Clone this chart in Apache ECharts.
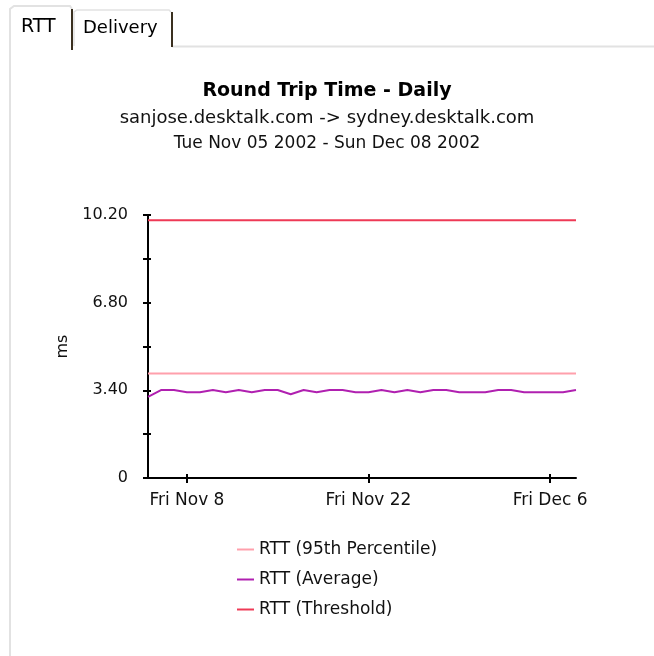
<!DOCTYPE html>
<html>
<head>
<meta charset="utf-8">
<script src="https://cdn.jsdelivr.net/npm/echarts@6/dist/echarts.min.js"></script>
<style>
html,body{margin:0;padding:0;background:#fff;}
#c{width:654px;height:656px;}
</style>
</head>
<body>
<div id="c"></div>
<script>
var titleText = 'Round Trip Time - Daily';
var subtitle1 = 'sanjose.desktalk.com -> sydney.desktalk.com';
var subtitle2 = 'Tue Nov 05 2002 - Sun Dec 08 2002';
var tabLabels = ['RTT', 'Delivery'];
var yAxisName = 'ms';

var categories = [
  'Tue Nov 5','Wed Nov 6','Thu Nov 7','Fri Nov 8','Sat Nov 9','Sun Nov 10','Mon Nov 11',
  'Tue Nov 12','Wed Nov 13','Thu Nov 14','Fri Nov 15','Sat Nov 16','Sun Nov 17','Mon Nov 18',
  'Tue Nov 19','Wed Nov 20','Thu Nov 21','Fri Nov 22','Sat Nov 23','Sun Nov 24','Mon Nov 25',
  'Tue Nov 26','Wed Nov 27','Thu Nov 28','Fri Nov 29','Sat Nov 30','Sun Dec 1','Mon Dec 2',
  'Tue Dec 3','Wed Dec 4','Thu Dec 5','Fri Dec 6','Sat Dec 7','Sun Dec 8'
];
var xTickLabels = ['Fri Nov 8', 'Fri Nov 22', 'Fri Dec 6'];

var seriesNames = ['RTT (95th Percentile)', 'RTT (Average)', 'RTT (Threshold)'];
var rtt95 = [4.05,4.05,4.05,4.05,4.05,4.05,4.05,4.05,4.05,4.05,4.05,4.05,4.05,4.05,4.05,4.05,4.05,
             4.05,4.05,4.05,4.05,4.05,4.05,4.05,4.05,4.05,4.05,4.05,4.05,4.05,4.05,4.05,4.05,4.05];
var rttAvg = [3.15,3.41,3.41,3.33,3.33,3.41,3.33,3.41,3.33,3.41,3.41,3.25,3.41,3.33,3.41,3.41,3.33,
              3.33,3.41,3.33,3.41,3.33,3.41,3.41,3.33,3.33,3.33,3.41,3.41,3.33,3.33,3.33,3.33,3.41];
var rttThreshold = [10,10,10,10,10,10,10,10,10,10,10,10,10,10,10,10,10,
                    10,10,10,10,10,10,10,10,10,10,10,10,10,10,10,10,10];
var yTickLabels = ['0', '3.40', '6.80', '10.20'];

var colors = ['#ffa0ac', '#b020b0', '#ee3a56'];
var FONT = 'DejaVu Sans';

function isLabelIdx(i) { return xTickLabels.indexOf(categories[i]) >= 0; }
function yFmt(v) {
  var k = Math.round(v / 1.7);
  if (k % 2 !== 0) return '';
  return yTickLabels[k / 2];
}

var chart = echarts.init(document.getElementById('c'), null, {renderer: 'canvas'});
var baseX = {
  type: 'category', data: categories, boundaryGap: false,
  axisLine: {show: true, onZero: false, lineStyle: {color: '#000', width: 2}},
  axisTick: {show: true, alignWithLabel: true, interval: function (i) { return isLabelIdx(i); }, length: 5, lineStyle: {color: '#000', width: 2}},
  axisLabel: {show: true, interval: function (i) { return isLabelIdx(i); }, color: '#111', fontFamily: FONT, fontSize: 17, margin: 14},
  splitLine: {show: false}
};
var innerX = {
  type: 'category', data: categories, boundaryGap: false, position: 'bottom',
  axisLine: {show: false},
  axisTick: {show: true, inside: true, interval: function (i) { return isLabelIdx(i); }, length: 4, lineStyle: {color: '#000', width: 2}},
  axisLabel: {show: false}, splitLine: {show: false}
};
var baseY = {
  type: 'value', min: 0, max: 10.2, interval: 1.7,
  name: yAxisName, nameLocation: 'middle', nameGap: 77, nameRotate: 90,
  nameTextStyle: {color: '#111', fontFamily: FONT, fontSize: 16},
  axisLine: {show: true, lineStyle: {color: '#000', width: 2}},
  axisTick: {show: true, length: 5, lineStyle: {color: '#000', width: 2}},
  axisLabel: {formatter: yFmt, color: '#111', fontFamily: FONT, fontSize: 16, margin: 20},
  splitLine: {show: false}
};
var innerY = {
  type: 'value', min: 0, max: 10.2, interval: 1.7, position: 'left',
  axisLine: {show: false},
  axisTick: {show: true, inside: true, length: 3, lineStyle: {color: '#000', width: 2}},
  axisLabel: {show: false}, splitLine: {show: false}
};

function line(name, data, color, width) {
  return {name: name, type: 'line', data: data, symbol: 'none', xAxisIndex: 0, yAxisIndex: 0,
    lineStyle: {color: color, width: width}, itemStyle: {color: color}, animation: false};
}

chart.setOption({
  backgroundColor: '#ffffff',
  animation: false,
  title: [
    {text: titleText, left: 'center', top: 77, textStyle: {fontFamily: FONT, fontSize: 19, fontWeight: 'bold', color: '#000'}},
    {text: subtitle1, left: 'center', top: 104, textStyle: {fontFamily: FONT, fontSize: 18, fontWeight: 'normal', color: '#111'}},
    {text: subtitle2, left: 'center', top: 130, textStyle: {fontFamily: FONT, fontSize: 17, fontWeight: 'normal', color: '#111'}}
  ],
  grid: {left: 148, right: 78, top: 215, bottom: 178, containLabel: false},
  xAxis: [baseX, innerX],
  yAxis: [baseY, innerY],
  legend: {
    orient: 'vertical', left: 232, top: 536, itemGap: 13,
    icon: 'rect', itemWidth: 17, itemHeight: 2,
    textStyle: {fontFamily: FONT, fontSize: 17, color: '#111'},
    data: seriesNames
  },
  series: [
    line(seriesNames[0], rtt95, colors[0], 2),
    line(seriesNames[1], rttAvg, colors[1], 2),
    line(seriesNames[2], rttThreshold, colors[2], 2)
  ],
  graphic: [
    {type: 'line', shape: {x1: 10, y1: 48, x2: 10, y2: 656}, style: {stroke: '#e2e2e2', lineWidth: 2}, silent: true},
    {type: 'line', shape: {x1: 172, y1: 46.5, x2: 654, y2: 46.5}, style: {stroke: '#e2e2e2', lineWidth: 2}, silent: true},
    {type: 'polyline', shape: {points: [[10, 48], [10, 9], [14, 6], [70, 6], [72, 9]]}, style: {stroke: '#e2e2e2', fill: null, lineWidth: 2}, silent: true},
    {type: 'line', shape: {x1: 72, y1: 9, x2: 72, y2: 50}, style: {stroke: '#3a3020', lineWidth: 2}, silent: true},
    {type: 'polyline', shape: {points: [[74, 46], [74, 12], [77, 10], [169, 10], [171, 12]]}, style: {stroke: '#e2e2e2', fill: null, lineWidth: 1.5}, silent: true},
    {type: 'line', shape: {x1: 172, y1: 12, x2: 172, y2: 47}, style: {stroke: '#3a3020', lineWidth: 2}, silent: true},
    {type: 'text', left: 21, top: 18, style: {text: tabLabels[0], font: '19px "' + FONT + '"', fill: '#000'}, silent: true},
    {type: 'text', left: 83, top: 19, style: {text: tabLabels[1], font: '18px "' + FONT + '"', fill: '#000'}, silent: true}
  ]
});
</script>
</body>
</html>
